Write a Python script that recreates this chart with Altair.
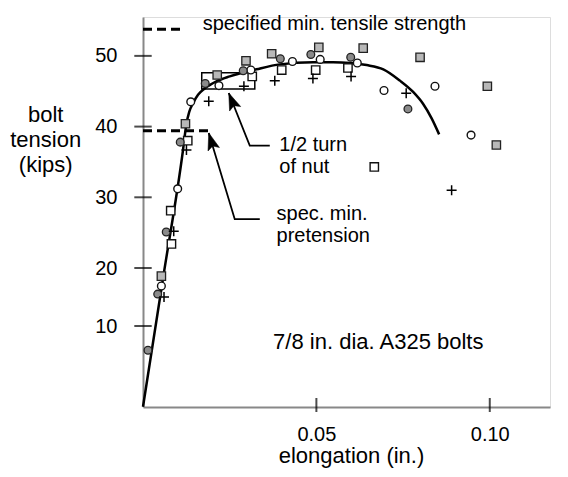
import altair as alt
import pandas as pd

FONT = "Liberation Sans, Arial, Helvetica, sans-serif"

# ---- data ----
# gray filled circles
gc_x = [0.00144, 0.00424, 0.0067, 0.01074, 0.01795, 0.0289, 0.0396, 0.0484, 0.0599, 0.0764]
gc_y = [7.0, 15.5, 25.1, 37.8, 46.1, 47.9, 49.6, 50.2, 49.8, 42.5]
# open circles
oc_x = [0.0053, 0.0100, 0.01377, 0.0219, 0.0311, 0.0431, 0.0511, 0.0618, 0.0695, 0.0842, 0.0946]
oc_y = [16.9, 31.2, 43.5, 45.8, 48.0, 49.2, 49.5, 49.0, 45.1, 45.7, 38.8]
# gray squares
gs_x = [0.0053, 0.01224, 0.0214, 0.0297, 0.0371, 0.0507, 0.0635, 0.0799, 0.0993, 0.1019]
gs_y = [18.6, 40.4, 47.3, 49.3, 50.3, 51.2, 51.1, 49.8, 45.7, 37.4]
# open squares
os_x = [0.0082, 0.0080, 0.0129, 0.0315, 0.0400, 0.0498, 0.0591, 0.0667]
os_y = [23.4, 28.1, 38.0, 47.1, 48.0, 48.0, 48.3, 34.3]
# plus signs
pl_x = [0.00606, 0.00886, 0.01253, 0.01896, 0.0291, 0.0380, 0.0490, 0.0600, 0.0759, 0.0890]
pl_y = [15.0, 25.2, 36.7, 43.6, 45.7, 46.5, 46.8, 47.1, 44.7, 31.0]

# fitted curve
cv_x = [0, 0.00577, 0.01154, 0.01247, 0.01333, 0.01443, 0.01587, 0.01781, 0.02118, 0.02502,
        0.03273, 0.03945, 0.04906, 0.0548, 0.0597, 0.0645, 0.0693, 0.0741, 0.0779, 0.0808,
        0.0832, 0.0854]
cv_y = [0, 18.2, 36.69, 40.23, 42.07, 43.3, 44.5, 45.4, 46.4, 47.1,
        48.1, 48.8, 49.1, 49.1, 49.0, 48.7, 48.1, 46.5, 44.9, 43.2,
        41.2, 38.9]

# reference levels (kips) and their dashed extents (in.)
lvl_name = ["tensile", "pretension"]
lvl_y = [53.76, 39.42]
lvl_x2 = [0.01122, 0.01974]

# "1/2 turn of nut" box
box_x = [0.01694]
box_x2 = [0.03224]
box_y = [45.3]
box_y2 = [47.6]

# leader arrows (polyline vertices, the last one is the tip)
ar_id = [1, 1, 1, 2, 2, 2]
ar_ord = [0, 1, 2, 0, 1, 2]
ar_x = [0.03656, 0.03079, 0.02473, 0.03368, 0.02646, 0.01896]
ar_y = [37.3, 37.3, 44.75, 26.9, 26.9, 39.1]
head_x = [0.02473, 0.01896]
head_y = [44.75, 39.1]
head_ang = [338, 343]

# annotations
tx_text = ["specified min. tensile strength", "1/2 turn", "of nut", "spec. min.", "pretension",
           "7/8 in. dia. A325 bolts"]
tx_x = [0.01723, 0.0393, 0.0393, 0.0385, 0.0385, 0.03752]
tx_y = [53.66, 36.55, 33.37, 26.8, 23.7, 7.15]
tx_size = [20, 20, 20, 20, 20, 22]

# axis ticks
xt_vals = [0.05, 0.10]
yt_vals = [10, 20, 30, 40, 50]

# ---- scales / axes ----
W, H = 407, 390
xs = alt.Scale(domain=[0, 0.11737], nice=False, zero=False)
ys = alt.Scale(domain=[0, 10, 20, 55.5], range=[389.7, 309, 251, 0], nice=False, zero=False)

x_axis = alt.Axis(values=xt_vals, format=".2f", ticks=False, tickSize=0, labelPadding=17,
                  labelFontSize=20, labelFlush=False, labelOverlap=False, grid=False,
                  domainWidth=2, title="elongation (in.)", titleFontSize=22,
                  titleFontWeight="normal", titleBaseline="alphabetic", titleY=55,
                  titleX=208)
y_axis = alt.Axis(values=yt_vals, ticks=False, tickSize=0, labelPadding=26, labelFontSize=20,
                  labelFlush=False, labelOverlap=False, grid=False, domainWidth=2,
                  title=["bolt", "tension", "(kips)"], titleAngle=0, titleAlign="center",
                  titleBaseline="alphabetic", titleX=-97.8, titleY=104, titleLineHeight=25,
                  titleFontSize=22, titleFontWeight="normal")


def X(f="x"):
    return alt.X(f + ":Q", scale=xs, axis=x_axis)


def Y(f="y"):
    return alt.Y(f + ":Q", scale=ys, axis=y_axis)


def pts(xv, yv):
    return pd.DataFrame({"x": xv, "y": yv})


box = alt.Chart(pd.DataFrame({"x": box_x, "x2": box_x2, "y": box_y, "y2": box_y2})).mark_rect(
    filled=False, stroke="black", strokeWidth=1.5).encode(x=X(), x2="x2:Q", y=Y(), y2="y2:Q")

curve = alt.Chart(pts(cv_x, cv_y)).mark_line(interpolate="monotone", color="black",
                                              strokeWidth=2.5).encode(x=X(), y=Y())

levels = alt.Chart(pd.DataFrame({"name": lvl_name, "y": lvl_y, "x": [0, 0], "x2": lvl_x2})).mark_rule(
    color="black", strokeWidth=3, strokeDash=[9, 5]).encode(x=X(), x2="x2:Q", y=Y())

arrows = alt.Chart(pd.DataFrame({"id": ar_id, "o": ar_ord, "x": ar_x, "y": ar_y})).mark_line(
    color="black", strokeWidth=1.8).encode(x=X(), y=Y(), detail="id:N", order="o:Q")

HEAD = "M0,0L0.7,2L0,1.6L-0.7,2Z"
heads = alt.Chart(pd.DataFrame({"x": head_x, "y": head_y, "a": head_ang})).mark_point(
    shape=HEAD, filled=True, fill="black", stroke="black", strokeWidth=0.5, size=290, opacity=1
).encode(x=X(), y=Y(), angle=alt.Angle("a:Q", scale=None))

PLUS = "M-1,0L1,0M0,-1L0,1"
g_circ = alt.Chart(pts(gc_x, gc_y)).mark_point(shape="circle", filled=True, fill="#8a8a8a",
                                                stroke="#222", strokeWidth=1.3, size=60,
                                                opacity=1).encode(x=X(), y=Y())
o_circ = alt.Chart(pts(oc_x, oc_y)).mark_point(shape="circle", filled=True, fill="white",
                                                stroke="#111", strokeWidth=1.4, size=60,
                                                opacity=1).encode(x=X(), y=Y())
g_sq = alt.Chart(pts(gs_x, gs_y)).mark_point(shape="square", filled=True, fill="#b8b8b8",
                                              stroke="#222", strokeWidth=1.3, size=70,
                                              opacity=1).encode(x=X(), y=Y())
o_sq = alt.Chart(pts(os_x, os_y)).mark_point(shape="square", filled=True, fill="white",
                                              stroke="#111", strokeWidth=1.4, size=70,
                                              opacity=1).encode(x=X(), y=Y())
plus = alt.Chart(pts(pl_x, pl_y)).mark_point(shape=PLUS, filled=False, stroke="black",
                                              strokeWidth=1.5, size=100,
                                              opacity=1).encode(x=X(), y=Y())

texts = alt.Chart(pd.DataFrame({"t": tx_text, "x": tx_x, "y": tx_y, "s": tx_size})).mark_text(
    align="left", baseline="alphabetic", font=FONT, color="black").encode(
    x=X(), y=Y(), text="t:N", size=alt.Size("s:Q", scale=None))

yticks = alt.Chart(pd.DataFrame({"y": yt_vals})).mark_tick(
    orient="horizontal", size=17.4, thickness=2, color="black").encode(y=Y(), x=alt.value(0))
xticks = alt.Chart(pd.DataFrame({"x": xt_vals})).mark_tick(
    orient="vertical", size=14, thickness=2, color="black").encode(x=X(), y=alt.value(388))

chart = alt.layer(box, levels, curve, arrows, heads, o_sq, g_sq, o_circ, g_circ, plus, texts,
                  yticks, xticks).properties(
    width=W, height=H,
    autosize=alt.AutoSizeParams(type="none"),
    padding={"left": 135, "top": 9, "right": 10, "bottom": 62},
).configure_view(stroke=None).configure_axis(
    domainColor="black", labelColor="black", titleColor="black", labelFont=FONT, titleFont=FONT
).configure(background="white")

chart.save("out.html", embed_options={"renderer": "svg", "actions": False})
